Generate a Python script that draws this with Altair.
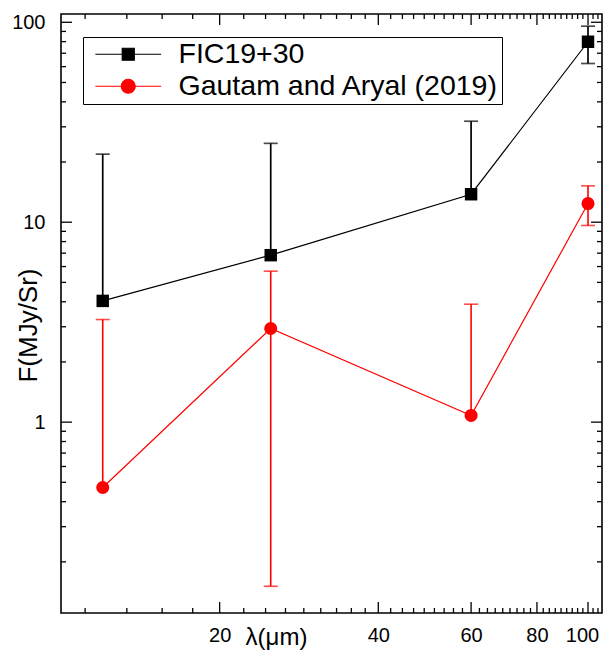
import altair as alt
import pandas as pd

# ---- data ----
wavelength = [12, 25, 60, 100]
series_names = ["FIC19+30", "Gautam and Aryal (2019)"]

fic = [4.04, 6.84, 13.8, 79.9]
fic_hi = [21.9, 24.8, 32.0, 95.6]
fic_lo = [None, None, None, 62.2]

ga = [0.471, 2.94, 1.08, 12.4]
ga_hi = [3.26, 5.69, 3.89, 15.2]
ga_lo = [None, 0.151, None, 9.63]

X_MIN, X_MAX = 10, 106.3
Y_MIN, Y_MAX = 0.111, 110
x_major = [20, 40, 60, 80, 100]
x_minor = [round(20 * k / 9, 3) for k in range(5, 50) if k % 9 != 0 and 20 * k / 9 < X_MAX]
y_major = [1, 10, 100]
y_minor = [m * 10 ** e for e in (-1, 0, 1) for m in range(2, 10)]

FONT = "Liberation Sans"
W, H = 541, 599
MAJ, MIN = 11, 5


def pts_df(vals, name):
    return pd.DataFrame({"x": wavelength, "y": vals, "s": name})


def err_df(vals, hi, lo, name):
    rows = []
    for x, v, h, l in zip(wavelength, vals, hi, lo):
        rows.append({"x": x, "lo": l if l is not None else v, "hi": h, "s": name})
    return pd.DataFrame(rows)


def cap_df(hi, lo, name):
    rows = []
    for x, h, l in zip(wavelength, hi, lo):
        rows.append({"x": x, "y": h, "s": name})
        if l is not None:
            rows.append({"x": x, "y": l, "s": name})
    return pd.DataFrame(rows)


fic_pts = pts_df(fic, series_names[0])
ga_pts = pts_df(ga, series_names[1])
fic_err = err_df(fic, fic_hi, fic_lo, series_names[0])
ga_err = err_df(ga, ga_hi, ga_lo, series_names[1])
fic_cap = cap_df(fic_hi, fic_lo, series_names[0])
ga_cap = cap_df(ga_hi, ga_lo, series_names[1])
all_pts = pd.concat([fic_pts, ga_pts])

xs = alt.Scale(type="log", domain=[X_MIN, X_MAX], nice=False)
ys = alt.Scale(type="log", domain=[Y_MIN, Y_MAX], nice=False)

x_lab = alt.Axis(orient="bottom", values=x_major, format="d", ticks=False, tickSize=0,
                 domain=False, grid=False, labelFontSize=20, labelPadding=12,
                 labelColor="black", labelFont=FONT, labelFlush=False, labelOverlap=False,
                 labelOffset={"condition": {"test": "datum.value == 100", "value": -6},
                              "value": 0},
                 title="λ(μm)", titleFontSize=24, titleFontWeight="normal", titleFont=FONT,
                 titleColor="black", titleX=215, titleY=24, titleBaseline="middle",
                 titleAlign="center")
y_lab = alt.Axis(orient="left", values=y_major, format="d", ticks=False, tickSize=0,
                 domain=False, grid=False, labelFontSize=20, labelPadding=16,
                 labelColor="black", labelFont=FONT, labelOverlap=False,
                 title="F(MJy/Sr)", titleFontSize=26, titleFontWeight="normal", titleFont=FONT,
                 titleColor="black", titleAngle=270, titleX=-33, titleY=311,
                 titleAlign="center", titleBaseline="middle")


def X(axis=None, field="x"):
    return alt.X(f"{field}:Q", scale=xs, axis=axis)


def Y(axis=None, field="y"):
    return alt.Y(f"{field}:Q", scale=ys, axis=axis)


# inward tick marks on all four sides (axis decoration, values through the scales)
def xticks(vals, length, side):
    base = alt.Chart(pd.DataFrame({"v": vals})).mark_rule(color="black", strokeWidth=1.3)
    if side == "bottom":
        return base.encode(x=X(None, "v"), y=alt.value(H), y2=alt.value(H - length))
    return base.encode(x=X(None, "v"), y=alt.value(0), y2=alt.value(length))


def yticks(vals, length, side):
    base = alt.Chart(pd.DataFrame({"v": vals})).mark_rule(color="black", strokeWidth=1.3)
    if side == "left":
        return base.encode(y=Y(None, "v"), x=alt.value(0), x2=alt.value(length))
    return base.encode(y=Y(None, "v"), x=alt.value(W), x2=alt.value(W - length))


tick_layers = [
    xticks(x_major, MAJ, "bottom"), xticks(x_minor, MIN, "bottom"),
    xticks(x_major, MAJ, "top"), xticks(x_minor, MIN, "top"),
    yticks(y_major, MAJ, "left"), yticks(y_minor, MIN, "left"),
    yticks(y_major, MAJ, "right"), yticks(y_minor, MIN, "right"),
]

line_fic = alt.Chart(fic_pts).mark_line(color="black", strokeWidth=1.2).encode(
    x=X(x_lab), y=Y(y_lab))
line_ga = alt.Chart(ga_pts).mark_line(color="#ff0000", strokeWidth=1.2).encode(x=X(), y=Y())
rule_fic = alt.Chart(fic_err).mark_rule(color="black", strokeWidth=1.7).encode(
    x=X(), y=Y(None, "lo"), y2="hi:Q")
rule_ga = alt.Chart(ga_err).mark_rule(color="#ff0000", strokeWidth=1.6).encode(
    x=X(), y=Y(None, "lo"), y2="hi:Q")
cap_fic = alt.Chart(fic_cap).mark_tick(color="black", orient="horizontal", size=14,
                                       thickness=1.7).encode(x=X(), y=Y())
cap_ga = alt.Chart(ga_cap).mark_tick(color="#ff0000", orient="horizontal", size=14,
                                     thickness=1.6).encode(x=X(), y=Y())
sq_fic = alt.Chart(fic_pts).mark_square(color="black", size=155, opacity=1).encode(x=X(), y=Y())
ci_ga = alt.Chart(ga_pts).mark_circle(color="#ff0000", size=170, opacity=1).encode(x=X(), y=Y())

sq_path = "M-4.7,0H4.7M-0.86,-0.86H0.86V0.86H-0.86Z"
ci_path = "M-4.7,0H4.7M-1,0A1,1,0,1,1,1,0A1,1,0,1,1,-1,0Z"
leg = alt.Legend(title=None, orient="none", legendX=22, legendY=23, strokeColor="black",
                 padding=3, symbolSize=196, symbolStrokeWidth=1.2, symbolOffset=28,
                 labelOffset=36, labelFontSize=28.5, labelFont=FONT, labelColor="black",
                 rowPadding=3, symbolOpacity=1, labelLimit=0)
cscale = alt.Scale(domain=series_names, range=["black", "#ff0000"])
legend_layer = alt.Chart(all_pts).mark_point(filled=True, opacity=0).encode(
    x=X(), y=Y(),
    fill=alt.Fill("s:N", scale=cscale, legend=leg),
    stroke=alt.Stroke("s:N", scale=cscale, legend=leg),
    shape=alt.Shape("s:N", scale=alt.Scale(domain=series_names, range=[sq_path, ci_path]),
                    legend=leg),
)

chart = alt.layer(
    line_fic, line_ga, rule_fic, rule_ga, cap_fic, cap_ga, sq_fic, ci_ga, legend_layer,
    *tick_layers
).resolve_axis(x="independent", y="independent").properties(
    width=W, height=H,
    autosize=alt.AutoSizeParams(type="none"),
    padding={"left": 53, "top": 6, "right": 1, "bottom": 40},
).configure(font=FONT).configure_view(stroke="black", strokeWidth=1.6)

chart.save("out.html", embed_options={"renderer": "svg", "actions": False})
